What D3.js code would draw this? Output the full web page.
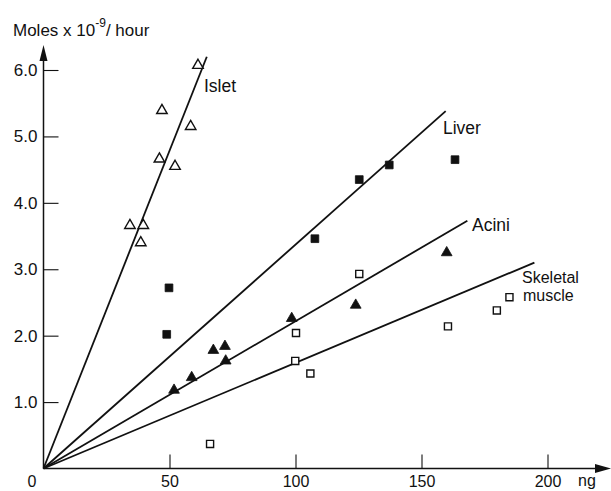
<!DOCTYPE html>
<html>
<head>
<meta charset="utf-8">
<script src="https://cdn.jsdelivr.net/npm/d3@7"></script>
<style>
  body { margin: 0; background: #fff; }
  text { font-family: "Liberation Sans", Arial, sans-serif; fill: #111; }
</style>
</head>
<body>
<script>
var width = 611;
var height = 491;

// Islet, open triangles
var isletX = [61.3, 47.0, 58.4, 46.0, 52.2, 34.3, 39.6, 38.6];
var isletY = [6.07, 5.39, 5.15, 4.66, 4.55, 3.66, 3.66, 3.40];
// Liver, filled squares
var liverX = [49.8, 48.9, 107.7, 125.3, 137.2, 163.3];
var liverY = [2.72, 2.02, 3.46, 4.35, 4.57, 4.65];
// Acini, filled triangles
var aciniX = [51.8, 58.8, 67.4, 72.0, 72.3, 98.5, 123.9, 160.0];
var aciniY = [1.18, 1.37, 1.78, 1.84, 1.62, 2.26, 2.46, 3.25];
// Skeletal muscle, open squares
var muscleX = [66.1, 99.9, 100.2, 105.9, 125.3, 160.5, 179.9, 184.9];
var muscleY = [0.37, 1.62, 2.04, 1.43, 2.93, 2.14, 2.38, 2.58];

// fitted lines through the origin, given by their far end
var lineEndX = [64.8, 159.6, 168.2, 194.8];
var lineEndY = [6.2, 5.38, 3.73, 3.10];

var xTicks = [50, 100, 150, 200];
var yTicks = [1, 2, 3, 4, 5, 6];

var svg = d3.select("body").append("svg")
    .attr("width", width)
    .attr("height", height);

var x = d3.scaleLinear().domain([0, 200]).range([43.5, 547.5]);
var y = d3.scaleLinear().domain([0, 6]).range([468.5, 70]);

// axes
var yAxis = d3.axisLeft(y).tickValues(yTicks).tickSize(-15).tickPadding(6)
    .tickFormat(d3.format(".1f"));
var xAxis = d3.axisBottom(x).tickValues(xTicks).tickSize(-14).tickPadding(7);

var gy = svg.append("g").attr("transform", "translate(" + x(0) + ",0)").call(yAxis);
var gx = svg.append("g").attr("transform", "translate(0," + y(0) + ")").call(xAxis);
[gx, gy].forEach(function (g) {
    g.select(".domain").remove();
    g.selectAll(".tick line").attr("stroke", "#111").attr("stroke-width", 1.1);
    g.selectAll(".tick text").style("font-size", "17px").attr("fill", "#111");
});
gx.selectAll(".tick text").style("font-size", "16px");

svg.append("line")
    .attr("x1", x(0)).attr("y1", y(0))
    .attr("x2", x(0)).attr("y2", 56)
    .attr("stroke", "#111").attr("stroke-width", 1.5);
svg.append("path")
    .attr("d", "M" + x(0) + ",45 L" + (x(0) - 4) + ",61 L" + (x(0) + 4) + ",61 Z")
    .attr("fill", "#111");
svg.append("line")
    .attr("x1", x(0)).attr("y1", y(0))
    .attr("x2", 600).attr("y2", y(0))
    .attr("stroke", "#111").attr("stroke-width", 1.5);
svg.append("path")
    .attr("d", "M611," + y(0) + " L595," + (y(0) - 4.5) + " L595," + (y(0) + 4.5) + " Z")
    .attr("fill", "#111");

svg.append("text").attr("x", 32).attr("y", 487)
    .attr("text-anchor", "middle").style("font-size", "16px").text("0");
svg.append("text").attr("x", 578).attr("y", 486)
    .style("font-size", "16px").text("ng");

var title = svg.append("text").attr("x", 13).attr("y", 36).style("font-size", "17px");
title.append("tspan").text("Moles x 10");
title.append("tspan").attr("dy", -9).style("font-size", "12px").text("-9");
title.append("tspan").attr("dy", 9).text("/ hour");

// fitted lines
svg.selectAll(".fit")
    .data(lineEndX)
    .enter().append("line")
    .attr("x1", x(0)).attr("y1", y(0))
    .attr("x2", d => x(d))
    .attr("y2", (d, i) => y(lineEndY[i]))
    .attr("stroke", "#111")
    .attr("stroke-width", 1.8);

function drawPoints(xs, ys, type, size, filled) {
    svg.append("g").selectAll("path")
        .data(xs)
        .enter().append("path")
        .attr("transform", (d, i) => "translate(" + x(d) + "," + y(ys[i]) + ")")
        .attr("d", d3.symbol().type(type).size(size))
        .attr("fill", filled ? "#111" : "#fff")
        .attr("stroke", "#111")
        .attr("stroke-width", filled ? 0.8 : 1.4);
}

drawPoints(isletX, isletY, d3.symbolTriangle, 48, false);
drawPoints(liverX, liverY, d3.symbolSquare, 60, true);
drawPoints(aciniX, aciniY, d3.symbolTriangle, 50, true);
drawPoints(muscleX, muscleY, d3.symbolSquare, 50, false);

// line labels
var labels = [
    { t: "Islet", x: 204, y: 92, s: 17.5 },
    { t: "Liver", x: 443, y: 134, s: 17.5 },
    { t: "Acini", x: 472, y: 231, s: 17.5 },
    { t: "Skeletal", x: 522, y: 283, s: 16 },
    { t: "muscle", x: 523, y: 301, s: 16 }
];
svg.selectAll(".lab")
    .data(labels)
    .enter().append("text")
    .attr("x", d => d.x).attr("y", d => d.y)
    .style("font-size", d => d.s + "px")
    .text(d => d.t);
</script>
</body>
</html>
